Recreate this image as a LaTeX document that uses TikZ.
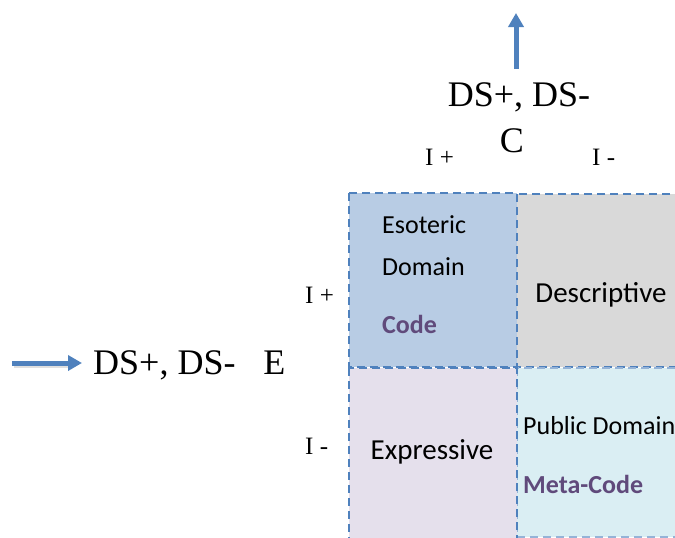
\documentclass[tikz,border=0pt]{standalone}
\usepackage{fontspec}
\setmainfont{Liberation Serif}
\newfontfamily\boxfont{Carlito}
\usetikzlibrary{arrows.meta}
\definecolor{dashblue}{RGB}{79,129,189}
\definecolor{arrowblue}{RGB}{79,129,189}
\definecolor{esoblue}{RGB}{184,204,228}
\definecolor{descgray}{RGB}{217,217,217}
\definecolor{exprlav}{RGB}{229,224,236}
\definecolor{pubcyan}{RGB}{218,238,243}
\definecolor{codepurple}{RGB}{96,74,123}
\begin{document}
\begin{tikzpicture}[x=1pt,y=-1pt,
  cell/.style={draw=dashblue, line width=2.2pt, dash pattern=on 8pt off 5pt},
  celltext/.style={font=\boxfont\fontsize{26}{30}\selectfont, inner sep=0pt, text=black},
  celltextbig/.style={font=\boxfont\fontsize{29}{34}\selectfont, inner sep=0pt, text=black},
  codetext/.style={font=\boxfont\bfseries\fontsize{26}{30}\selectfont, inner sep=0pt, text=codepurple},
  axisbig/.style={font=\fontsize{36}{42}\selectfont, inner sep=0pt},
  axissmall/.style={font=\fontsize{25}{30}\selectfont, inner sep=0pt},
  bluearrow/.style={draw=arrowblue, line width=5pt, -{Triangle[length=14pt,width=15pt]}}
]
\clip (0,0) rectangle (675,538);
% cells
\draw[cell, fill=descgray, line width=1.6pt] (517,194) rectangle (700,367);
\draw[cell, fill=pubcyan, draw=dashblue!60, line width=1.6pt] (517,368) rectangle (700,537);
\draw[cell, fill=exprlav] (349,368) rectangle (517,560);
\draw[cell, fill=esoblue] (349,193) rectangle (517,367);
% cell texts
\node[celltext, anchor=base west] (eso) at (382,233) {Esoteric};
\node[celltext, anchor=base west] (dom) at (382,275) {Domain};
\node[codetext, anchor=base west] (code) at (382,333) {Code};
\node[celltextbig, anchor=base] (desc) at (601,302) {Descriptive};
\node[celltextbig, anchor=base] (expr) at (432,459) {Expressive};
\node[celltext, anchor=base west] (pub) at (523,434) {Public Domain};
\node[codetext, anchor=base west] (meta) at (523,493) {Meta-Code};
% axis labels
\node[axisbig, anchor=base] (dsc) at (519,106) {DS+, DS-};
\node[axisbig, anchor=base] (c) at (512,152) {C};
\node[axissmall, anchor=base west] (ipt) at (425,165) {I +};
\node[axissmall, anchor=base west] (imt) at (592,165) {I -};
\node[axissmall, anchor=base west] (ipl) at (305,303) {I +};
\node[axissmall, anchor=base west] (iml) at (305,454) {I -};
\node[axisbig, anchor=base west] (dse) at (93,374) {DS+, DS-\hspace{19pt} E};
% arrows
\coordinate (upstart) at (516,69);
\coordinate (uptip) at (516,13);
\coordinate (leftstart) at (12,363);
\coordinate (leftend) at ([xshift=-11pt]dse.west |- leftstart);
\draw[gray!25, line width=5pt] ([shift={(1.5,2)}]leftstart) -- ([shift={(1.5,2)}]66,363);
\draw[bluearrow] (leftstart) -- (leftend);
\draw[bluearrow] (upstart) -- (uptip);
\end{tikzpicture}
\end{document}
